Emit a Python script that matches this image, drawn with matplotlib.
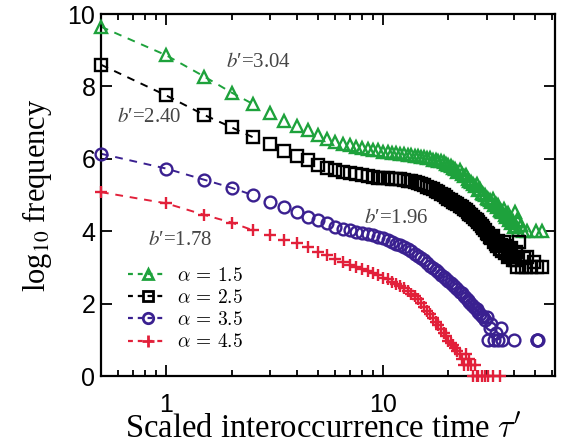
import numpy as np
import matplotlib.pyplot as plt
from matplotlib.font_manager import FontProperties
from matplotlib.lines import Line2D
from matplotlib.ticker import FixedLocator, LogLocator, NullFormatter

nan = np.nan

# bin centres of the scaled interoccurrence time (bins 0.5 wide)
tau = np.arange(1, 111) * 0.5

# log10 frequency, one row per 5 units of tau
freq_a15 = [
    9.65, 8.86, 8.27, 7.83, 7.52, 7.27, 7.05, 6.92, 6.79, 6.66,
    6.56, 6.46, 6.41, 6.37, 6.33, 6.31, 6.28, 6.25, 6.23, 6.20,
    6.20, 6.17, 6.16, 6.14, 6.13, 6.11, 6.10, 6.08, 6.07, 6.05,
    6.04, 6.01, 6.02, 5.98, 5.97, 5.94, 5.95, 5.90, 5.87, 5.83,
    5.80, 5.74, 5.72, 5.64, 5.68, 5.57, 5.52, 5.55, 5.44, 5.40,
    5.36, 5.30, 5.26, 5.30, 5.14, 5.18, 5.06, 5.02, 5.00, 4.93,
    4.90, 4.86, 4.80, 4.90, 4.72, 4.76, 4.66, 4.72, 4.60, 4.56,
    4.52, 4.62, 4.46, 4.40, 4.50, 4.32, 4.36, 4.22, 4.28, 4.12,
    4.53, 4.15, 4.30, 4.02, nan, 4.18, nan, 4.00, nan, nan,
    nan, 4.00, nan, nan, nan, nan, nan, nan, nan, nan,
    4.00, nan, nan, nan, nan, nan, nan, 4.00, nan, nan,
]
freq_a25 = [
    8.60, 7.75, 7.21, 6.87, 6.60, 6.40, 6.22, 6.08, 5.97, 5.83,
    5.75, 5.69, 5.63, 5.60, 5.57, 5.54, 5.52, 5.50, 5.48, 5.47,
    5.46, 5.45, 5.44, 5.43, 5.42, 5.40, 5.39, 5.36, 5.33, 5.30,
    5.27, 5.22, 5.20, 5.16, 5.12, 5.08, 5.04, 5.00, 4.95, 4.90,
    4.86, 4.82, 4.77, 4.74, 4.70, 4.66, 4.62, 4.58, 4.52, 4.48,
    4.44, 4.40, 4.34, 4.30, 4.25, 4.20, 4.14, 4.10, 4.02, 3.96,
    3.92, 3.85, 3.80, 3.88, 3.70, 3.66, 3.58, 3.74, 3.50, 3.62,
    3.45, 3.70, 3.40, 3.58, 3.30, 3.48, 3.35, 3.55, 3.20, 3.30,
    3.20, 3.42, 3.00, 3.30, 3.70, nan, 3.00, nan, 3.25, nan,
    3.00, 3.30, nan, nan, nan, 3.00, nan, nan, 3.15, nan,
    nan, nan, 3.00, nan, nan, nan, nan, 3.00, nan, nan,
]
freq_a35 = [
    6.14, 5.73, 5.42, 5.20, 5.00, 4.80, 4.67, 4.53, 4.40, 4.31,
    4.23, 4.13, 4.07, 4.02, 3.98, 3.95, 3.92, 3.89, 3.85, 3.82,
    3.76, 3.71, 3.66, 3.61, 3.56, 3.50, 3.44, 3.38, 3.32, 3.26,
    3.20, 3.12, 3.05, 2.98, 2.92, 2.86, 2.80, 2.74, 2.68, 2.62,
    2.57, 2.51, 2.46, 2.40, 2.33, 2.28, 2.20, 2.15, 2.10, 2.04,
    1.98, 1.94, 1.88, 1.84, 1.78, 1.72, 1.66, 1.62, 1.55, 1.64,
    1.00, 1.34, 1.45, nan, 1.00, 1.20, nan, 1.00, nan, 1.34,
    1.00, nan, nan, nan, nan, nan, nan, nan, nan, 1.00,
    nan, nan, nan, nan, nan, nan, nan, nan, nan, nan,
    nan, nan, nan, nan, nan, nan, nan, nan, nan, nan,
    nan, 1.00, 1.00, 1.00, nan, nan, nan, nan, nan, nan,
]
freq_a45 = [
    5.08, 4.77, 4.45, 4.24, 4.03, 3.90, 3.76, 3.67, 3.56, 3.43,
    3.34, 3.22, 3.15, 3.08, 3.02, 2.96, 2.90, 2.84, 2.78, 2.72,
    2.67, 2.61, 2.55, 2.48, 2.42, 2.35, 2.27, 2.20, 2.12, 2.03,
    1.90, 1.80, 1.70, 1.60, 1.50, 1.40, 1.30, 1.20, 1.10, 0.98,
    0.90, 0.85, 0.78, 0.70, 0.60, 0.48, 0.30, 0.60, 0.30, 0.48,
    0.30, 0.00, 0.30, 0.00, 0.00, nan, 0.00, nan, 0.00, nan,
    0.00, nan, nan, 0.00, nan, nan, nan, nan, 0.00, nan,
    nan, nan, nan, nan, nan, nan, nan, nan, nan, nan,
    nan, nan, nan, nan, nan, nan, nan, nan, nan, nan,
    nan, nan, nan, nan, nan, nan, nan, nan, nan, nan,
    nan, nan, nan, nan, nan, nan, nan, nan, nan, nan,
]

alphas = ["1.5", "2.5", "3.5", "4.5"]
slopes = ["3.04", "2.40", "1.96", "1.78"]
slope_pos = [(1.88, 8.67), (0.595, 7.13), (8.2, 4.36), (0.82, 3.73)]

series = [freq_a15, freq_a25, freq_a35, freq_a45]
colors = ["#1ea23c", "#000000", "#3a2090", "#e2203a"]
markers = ["^", "s", "o", "+"]
msizes = [8.5, 8, 8.5, 9]
n_fit = 5

plt.rcParams.update({
    "font.family": ["Liberation Sans", "DejaVu Sans"],
    "axes.linewidth": 1.6,
})

fig = plt.figure(figsize=(5.64, 4.45), dpi=100)
ax = fig.add_axes([0.179, 0.155, 0.805, 0.8135])

handles = []
for y, c, m, ms, a in zip(series, colors, markers, msizes, alphas):
    y = np.array(y, dtype=float)
    ax.plot(tau[:n_fit], y[:n_fit], ls="--", dashes=(4, 3.5), lw=1.4,
            color=c, zorder=2)
    ax.plot(tau, y, ls="none", marker=m, ms=ms, mfc="none", mec=c,
            mew=1.7, clip_on=False, zorder=3)
    handles.append(Line2D([], [], ls="--", dashes=(2.2, 2.2), lw=1.6,
                          color=c, marker=m, ms=ms - 1, mfc="none",
                          mec=c, mew=2, label=rf"$\alpha\,=\,{a}$"))

for s, (x, yy) in zip(slopes, slope_pos):
    ax.text(x, yy, f"$b$\u2032={s}", ha="left", va="center", color="#454545",
            family="Liberation Serif", math_fontfamily="stix", fontsize=15)

ax.set_xscale("log")
ax.set_xlim(0.5, 62)
ax.set_ylim(0, 10)
ax.xaxis.set_major_locator(FixedLocator([1, 10]))
ax.xaxis.set_minor_locator(LogLocator(base=10, subs=np.arange(2, 10)))
ax.xaxis.set_minor_formatter(NullFormatter())
ax.set_xticklabels(["1", "10"])
ax.set_yticks([0, 2, 4, 6, 8, 10])

ax.tick_params(which="both", direction="in", top=True, right=True,
               width=1.3, labelsize=18)
ax.tick_params(which="major", length=8)
ax.tick_params(which="minor", length=4.5)
ax.tick_params(axis="x", which="major", pad=12)
ax.tick_params(axis="y", which="major", pad=4)

ax.set_xlabel(r"Scaled interoccurrence time $\tau'$", family="Liberation Serif",
              math_fontfamily="cm", fontsize=23.5)
ax.set_ylabel(r"log$_{10}$ frequency", family="Liberation Serif",
              math_fontfamily="stix", fontsize=22)
ax.xaxis.label.set_va("center")
ax.yaxis.label.set_va("center")
ax.xaxis.set_label_coords(0.49, -0.148)
ax.yaxis.set_label_coords(-0.14, 0.5)

leg_prop = FontProperties(family="Liberation Serif", size=14, math_fontfamily="cm")
ax.legend(handles=handles, loc="upper left", bbox_to_anchor=(0.03, 0.34),
          frameon=False, prop=leg_prop, handlelength=2.0, handletextpad=0.5,
          labelspacing=0.22, borderpad=0.2)

fig.savefig("out.png", dpi=100)
